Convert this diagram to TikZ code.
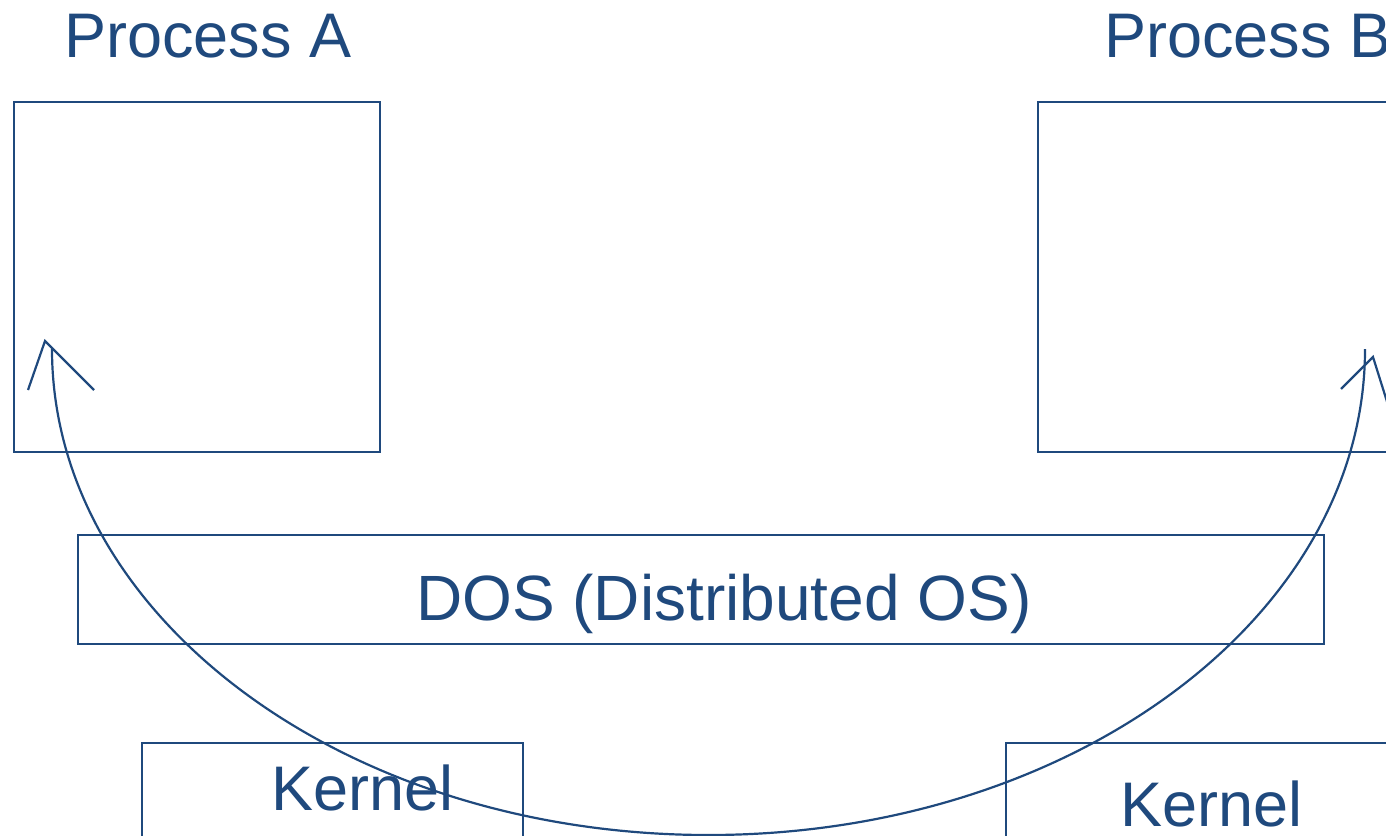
\documentclass[tikz,border=0pt]{standalone}
\usepackage{fontspec}
\setmainfont{Liberation Sans}
\definecolor{dblue}{RGB}{31,73,125}
\begin{document}
\begin{tikzpicture}[x={(1pt,0)},y={(0,-1pt)},
  box/.style={draw=dblue,line width=2.4pt},
  lbl/.style={anchor=base west,inner sep=0pt,text=dblue,font=\fontsize{63}{70}\selectfont},
  conn/.style={draw=dblue,line width=2.2pt}]
\useasboundingbox (0,0) rectangle (1386,835);
\begin{scope}
\clip (0,0) rectangle (1386,835);
% boxes
\draw[box] (14,102) rectangle (380,452);
\draw[box] (1038,102) rectangle (1420,452);
\draw[box] (78,535) rectangle (1324,644);
\draw[box] (142,743) rectangle (523,880);
\draw[box] (1006,743) rectangle (1420,880);
% labels
\node[lbl] (procA) at (64,57) {Process A};
\node[lbl] (procB) at (1104,57) {Process B};
\node[lbl,font=\fontsize{64}{70}\selectfont] (dos) at (416,620) {DOS (Distributed OS)};
\node[lbl] (kerA) at (271,810) {Kernel};
\node[lbl] (kerB) at (1120,826) {Kernel};
% curved connector
\coordinate (startA) at (52,349);
\coordinate (tipA) at (45,341);
\coordinate (tipB) at (1373,357);
\draw[conn] (startA) arc[start angle=180,end angle=0,x radius=656.5,y radius=486];
% arrowheads
\draw[conn,line join=miter] (28,390) -- (tipA) -- (94,390);
\draw[conn,line join=miter] (1341,389) -- (tipB) -- (1389,408);
\end{scope}
\end{tikzpicture}
\end{document}
